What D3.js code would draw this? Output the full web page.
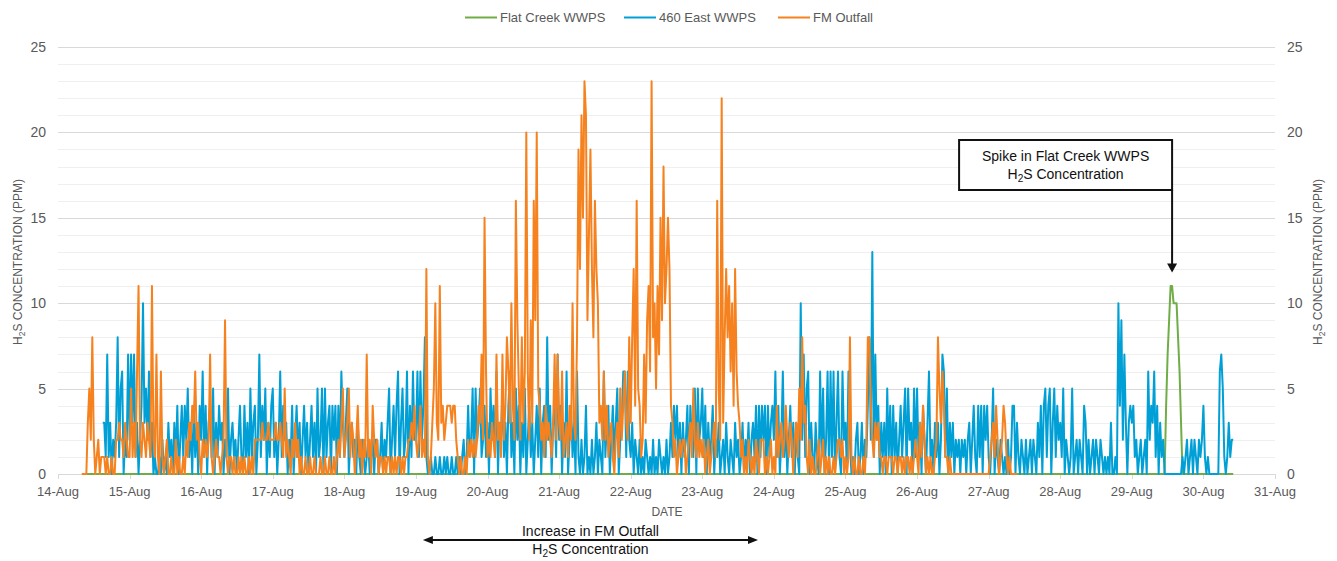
<!DOCTYPE html>
<html>
<head>
<meta charset="utf-8">
<script src="https://cdn.jsdelivr.net/npm/d3@7"></script>
<style>
  body { margin: 0; background: #fff; }
  svg { display: block; }
  text { font-family: "Liberation Sans", Arial, sans-serif; }
</style>
</head>
<body>
<svg id="chart" width="1337" height="561"></svg>
<script>
// H2S readings (ppm), one value every 30 minutes from each series' start time.
const stepMinutes = 30;

const seriesNames = ["Flat Creek WWPS", "460 East WWPS", "FM Outfall"];
const seriesStarts = ["2019-08-14T08:00:00Z", "2019-08-14T15:00:00Z", "2019-08-14T08:00:00Z"];

const flatCreek = [
  0,0,0,0,0,0,0,0,0,0,0,0,0,0,0,0,0,0,0,0,0,0,0,0,0,0,0,0,0,0,0,0,
  0,0,0,0,0,0,0,0,0,0,0,0,0,0,0,0,0,0,0,0,0,0,0,0,0,0,0,0,0,0,0,0,0,0,0,0,0,0,0,0,0,0,0,0,0,0,0,0,
  0,0,0,0,0,0,0,0,0,0,0,0,0,0,0,0,0,0,0,0,0,0,0,0,0,0,0,0,0,0,0,0,0,0,0,0,0,0,0,0,0,0,0,0,0,0,0,0,
  0,0,0,0,0,0,0,0,0,0,0,0,0,0,0,0,0,0,0,0,0,0,0,0,0,0,0,0,0,0,0,0,0,0,0,0,0,0,0,0,0,0,0,0,0,0,0,0,
  0,0,0,0,0,0,0,0,0,0,0,0,0,0,0,0,0,0,0,0,0,0,0,0,0,0,0,0,0,0,0,0,0,0,0,0,0,0,0,0,0,0,0,0,0,0,0,0,
  0,0,0,0,0,0,0,0,0,0,0,0,0,0,0,0,0,0,0,0,0,0,0,0,0,0,0,0,0,0,0,0,0,0,0,0,0,0,0,0,0,0,0,0,0,0,0,0,
  0,0,0,0,0,0,0,0,0,0,0,0,0,0,0,0,0,0,0,0,0,0,0,0,0,0,0,0,0,0,0,0,0,0,0,0,0,0,0,0,0,0,0,0,0,0,0,0,
  0,0,0,0,0,0,0,0,0,0,0,0,0,0,0,0,0,0,0,0,0,0,0,0,0,0,0,0,0,0,0,0,0,0,0,0,0,0,0,0,0,0,0,0,0,0,0,0,
  0,0,0,0,0,0,0,0,0,0,0,0,0,0,0,0,0,0,0,0,0,0,0,0,0,0,0,0,0,0,0,0,0,0,0,0,0,0,0,0,0,0,0,0,0,0,0,0,
  0,0,0,0,0,0,0,0,0,0,0,0,0,0,0,0,0,0,0,0,0,0,0,0,0,0,0,0,0,0,0,0,0,0,0,0,0,0,0,0,0,0,0,0,0,0,0,0,
  0,0,0,0,0,0,0,0,0,0,0,0,0,0,0,0,0,0,0,0,0,0,0,0,0,0,0,0,0,0,0,0,0,0,0,0,0,0,0,0,0,0,0,0,0,0,0,0,
  0,0,0,0,0,0,0,0,0,0,0,0,0,0,0,0,0,0,0,0,0,0,0,0,0,0,0,0,0,0,0,0,0,0,0,0,0,0,0,0,0,0,0,0,0,0,0,0,
  0,0,0,0,0,0,0,0,0,0,0,0,0,0,0,0,0,0,0,0,0,0,0,0,0,0,0,0,0,0,0,0,0,0,0,0,0,0,0,0,0,0,0,0,0,0,0,0,
  0,0,0,0,0,0,0,0,0,0,0,0,0,0,0,0,0,0,0,0,0,0,0,0,0,0,0,0,0,0,0,0,0,0,0,0,0,0,0,0,0,0,0,0,0,0,0,0,
  0,0,0,0,0,0,0,0,0,0,0,0,0,0,0,0,0,0,0,0,0,0,0,0,0,0,0,0,0,0,0,0,0,0,0,0,0,0,0,0,0,0,0,0,0,0,0,0,
  0,0,0,0,0,0,0,0,0,0,0,0,0,0,0,0,0,0,0,0,0,0,0,4,7,9,11,11,10,10,10,8,6,3,0,0,0,0,0,0,0,0,0,0,0,0,0,0,
  0,0,0,0,0,0,0,0,0,0,0,0,0,0,0,0,0,0,0,0,0
];

const east460 = [
  3,3,1,7,1,3,0,2,1,3,8,1,5,6,0,2,1,7,
  2,7,3,7,1,3,0,2,4,10,3,5,2,6,1,3,0,1,0,0,1,0,2,0,1,0,3,1,2,0,3,1,4,0,2,4,1,4,2,5,1,3,0,4,1,3,0,4,
  2,6,1,4,0,3,4,1,5,0,3,1,4,2,3,0,2,1,5,0,2,3,1,2,0,2,4,1,0,4,1,3,0,5,1,3,4,0,2,7,1,4,2,5,0,3,1,4,
  5,1,3,0,2,6,1,4,2,3,0,2,1,4,0,2,4,1,3,0,2,4,1,3,0,2,4,1,3,0,5,1,2,5,0,5,1,3,4,0,4,2,4,0,4,1,6,3,
  1,3,5,0,2,3,1,2,0,3,1,0,2,1,0,1,2,0,1,2,0,2,2,0,1,3,0,2,1,3,5,0,2,4,1,4,6,0,3,5,1,2,6,0,4,1,6,2,
  2,6,1,6,2,4,8,1,0,0,1,0,0,1,0,0,1,0,0,1,0,1,0,0,1,0,0,1,0,1,0,1,2,0,1,4,1,2,5,0,5,2,3,5,1,2,4,1,
  3,0,5,2,4,1,6,0,3,2,5,1,3,0,4,6,1,3,0,5,2,4,0,3,1,5,0,2,4,1,3,0,2,4,1,5,0,3,4,1,8,2,4,0,3,4,1,7,
  2,4,0,3,1,6,0,2,4,1,3,0,6,1,0,2,0,1,4,0,1,0,2,0,1,3,0,2,1,0,6,1,3,4,0,2,4,1,3,5,0,2,3,6,6,1,6,2,
  1,3,0,2,1,0,2,0,1,0,2,1,0,1,0,2,0,1,0,2,1,0,1,0,2,0,1,3,1,4,2,4,1,3,0,3,1,2,4,0,4,2,1,5,0,5,2,3,
  5,1,4,0,3,1,2,4,0,2,1,3,0,1,2,0,3,1,0,2,1,0,3,1,2,0,1,3,0,2,1,3,0,2,3,1,4,0,4,1,4,2,4,0,4,1,3,4,
  2,6,1,4,0,2,6,1,3,0,2,4,1,3,0,3,1,0,10,2,7,1,5,6,0,3,1,0,3,1,0,6,1,5,0,2,6,0,6,1,6,0,3,6,1,0,6,2,
  3,0,6,2,0,1,0,2,3,0,1,3,0,2,1,4,8,2,13,1,7,2,4,0,3,1,3,0,5,1,4,0,4,1,3,0,2,4,1,3,5,0,5,2,3,0,5,1,
  5,1,3,0,4,2,0,3,6,1,2,0,3,1,3,0,2,7,6,1,5,0,3,1,3,0,2,1,2,0,2,1,2,0,2,3,0,2,4,1,0,4,1,4,0,4,2,4,
  1,0,2,5,0,2,1,0,2,1,0,1,0,2,0,1,4,4,0,3,1,0,2,1,0,2,0,1,2,0,2,1,0,3,1,4,0,4,5,1,4,5,0,3,5,1,4,2,
  3,1,5,0,2,1,0,1,5,0,1,2,0,2,1,0,4,3,0,2,0,1,2,0,2,1,0,2,1,0,1,0,1,0,3,0,0,1,0,10,4,9,2,7,3,0,3,4,
  3,4,1,2,0,1,2,0,1,2,0,6,2,4,3,6,1,4,0,3,1,2,0,0,0,0,0,0,0,0,0,0,0,0,1,0,1,2,0,1,2,0,2,1,0,2,1,2,
  4,1,0,1,0,0,0,0,0,0,0,6,7,5,1,0,1,3,1,2,2
];

const fmOutfall = [
  0,0,0,0,3,5,2,8,2,0,1,2,0,1,1,1,0,1,0,0,1,0,0,2,2,3,2,2,1,3,2,1,
  1,5,1,3,1,6,11,2,1,3,2,1,3,2,1,11,2,1,7,1,0,6,1,0,1,2,0,0,1,0,0,2,0,1,0,0,1,0,2,1,3,2,4,3,6,2,3,1,
  0,2,1,2,1,2,7,1,0,1,2,1,1,0,1,2,9,1,0,1,1,0,1,0,0,1,0,1,0,1,0,0,1,0,1,0,2,2,2,2,2,3,2,2,2,3,2,2,
  2,2,3,2,2,3,2,1,5,1,2,1,0,2,1,3,1,2,0,1,0,0,1,0,0,1,0,0,1,0,0,0,1,0,0,1,0,0,1,0,0,1,0,1,2,1,3,5,
  1,2,3,5,1,3,2,0,2,4,1,2,0,2,1,7,1,2,0,4,2,1,2,0,1,1,0,1,0,1,1,0,1,0,1,0,1,1,0,1,0,1,1,2,2,3,2,4,
  2,1,2,4,1,2,1,12,1,0,1,3,5,10,3,2,11,3,4,2,3,4,4,4,3,4,4,2,1,0,1,0,0,1,0,2,1,2,1,2,1,2,4,3,7,2,15,6,
  1,2,1,3,2,1,7,2,3,1,7,2,4,8,6,3,10,4,2,16,9,5,2,8,3,6,20,6,2,9,3,16,9,20,5,4,2,3,1,4,2,3,2,1,3,7,2,7,
  3,2,6,1,2,3,1,4,2,10,3,2,8,19,12,21,15,23,21,9,14,19,12,8,16,12,10,3,4,2,6,2,4,1,2,3,1,0,2,3,1,5,2,4,6,3,2,8,
  3,8,12,4,16,5,4,1,2,7,3,9,11,6,23,8,10,5,11,7,15,9,18,10,12,15,12,4,3,1,2,0,1,2,1,2,2,0,1,2,3,1,5,2,1,3,1,2,
  1,2,0,1,2,0,1,2,3,1,16,5,2,22,3,8,12,8,11,6,10,4,12,6,4,3,1,2,0,1,0,2,1,0,1,0,2,1,0,2,2,2,0,1,0,1,2,0,
  1,0,4,1,2,3,1,2,4,2,1,3,2,0,2,3,1,5,2,8,3,4,1,0,2,0,1,0,0,1,2,0,1,2,0,1,0,1,0,0,1,0,1,2,2,1,2,0,
  1,0,1,8,1,0,1,0,0,1,0,0,1,0,2,8,8,4,2,1,3,2,3,1,1,0,1,1,0,1,1,1,0,1,1,0,1,1,0,1,0,1,1,0,1,0,1,2,
  1,0,3,1,4,2,0,1,0,1,0,0,1,2,8,5,3,6,4,1,1,0,1,0,0,0,0,0,0,0,0,0,0,0,0,0,0,0,0,0,0,0,0,0,0,0,0,0,
  0,1,2,3,1,4,2,0,1,2,4,3,1,0,1,0,0,0,0,0
];

const seriesValues = [flatCreek, east460, fmOutfall];
const seriesColors = ["#70ad47", "#00a0d6", "#f5821f"];

const yTicks = [0, 5, 10, 15, 20, 25];
const dateDomain = ["2019-08-14T00:00:00Z", "2019-08-31T00:00:00Z"];

// Annotation anchors (times / values on the chart's own scales)
const outfallWindow = ["2019-08-19T02:20:00Z", "2019-08-23T18:40:00Z"];
const spikeTime = "2019-08-29T13:30:00Z";
const spikeTipValue = 11.8;

const svg = d3.select("#chart");
const plot = { left: 58, right: 1275, top: 47, bottom: 474 };

const x = d3.scaleUtc()
  .domain(dateDomain.map(d => new Date(d)))
  .range([plot.left, plot.right]);
const y = d3.scaleLinear().domain([0, 25]).range([plot.bottom, plot.top]);

const grey = "#595959";

// Gridlines: minor every 1 ppm, major every 5 ppm
const gridVals = d3.range(0, 26);
svg.append("g").selectAll("line").data(gridVals.filter(v => v % 5 !== 0)).join("line")
  .attr("x1", plot.left).attr("x2", plot.right)
  .attr("y1", d => Math.round(y(d)) + 0.5).attr("y2", d => Math.round(y(d)) + 0.5)
  .attr("stroke", "#efefef").attr("stroke-width", 1);
svg.append("g").selectAll("line").data(yTicks).join("line")
  .attr("x1", plot.left).attr("x2", plot.right)
  .attr("y1", d => Math.round(y(d)) + 0.5).attr("y2", d => Math.round(y(d)) + 0.5)
  .attr("stroke", "#d9d9d9").attr("stroke-width", 1);

// X axis ticks and date labels
const days = d3.utcDay.range(x.domain()[0], d3.utcDay.offset(x.domain()[1], 1));
const fmt = d3.utcFormat("%d-%b");
const xg = svg.append("g");
xg.selectAll("line").data(days).join("line")
  .attr("x1", d => Math.round(x(d)) + 0.5).attr("x2", d => Math.round(x(d)) + 0.5)
  .attr("y1", plot.bottom).attr("y2", plot.bottom + 5)
  .attr("stroke", "#d9d9d9");
xg.selectAll("text").data(days).join("text")
  .attr("x", d => x(d)).attr("y", 496)
  .attr("text-anchor", "middle").attr("font-size", 13).attr("fill", grey)
  .text(d => fmt(d));

// Y tick labels on both sides
svg.append("g").selectAll("text").data(yTicks).join("text")
  .attr("x", 46).attr("y", d => y(d)).attr("dy", "0.35em")
  .attr("text-anchor", "end").attr("font-size", 14).attr("fill", grey)
  .text(d => d);
svg.append("g").selectAll("text").data(yTicks).join("text")
  .attr("x", 1287).attr("y", d => y(d)).attr("dy", "0.35em")
  .attr("text-anchor", "start").attr("font-size", 14).attr("fill", grey)
  .text(d => d);

// Axis titles
function h2sTitle(g, tail) {
  g.append("tspan").text("H");
  g.append("tspan").attr("font-size", "0.72em").attr("dy", 3).text("2");
  g.append("tspan").attr("dy", -3).text(tail);
}
const midY = 262;
h2sTitle(svg.append("text")
  .attr("transform", `translate(22,${midY}) rotate(-90)`)
  .attr("text-anchor", "middle").attr("font-size", 12).attr("fill", grey),
  "S CONCENTRATION (PPM)");
h2sTitle(svg.append("text")
  .attr("transform", `translate(1322,${midY}) rotate(-90)`)
  .attr("text-anchor", "middle").attr("font-size", 12).attr("fill", grey),
  "S CONCENTRATION (PPM)");

svg.append("text").attr("x", 667).attr("y", 516)
  .attr("text-anchor", "middle").attr("font-size", 12).attr("fill", grey).text("DATE");

// Series lines (later series drawn on top)
const line = d3.line().x(d => x(d.t)).y(d => y(d.v));
seriesValues.forEach((vals, i) => {
  const t0 = new Date(seriesStarts[i]).getTime();
  const pts = vals.map((v, k) => ({ t: new Date(t0 + k * stepMinutes * 60000), v }));
  svg.append("path").datum(pts)
    .attr("d", line)
    .attr("fill", "none")
    .attr("stroke", seriesColors[i])
    .attr("stroke-width", 2)
    .attr("stroke-linejoin", "round");
});

// Legend
const legendX = [465, 624, 778];
const lg = svg.append("g");
seriesNames.forEach((name, i) => {
  lg.append("line").attr("x1", legendX[i]).attr("x2", legendX[i] + 32)
    .attr("y1", 17.5).attr("y2", 17.5)
    .attr("stroke", seriesColors[i]).attr("stroke-width", 2);
  lg.append("text").attr("x", legendX[i] + 35).attr("y", 17).attr("dy", "0.35em")
    .attr("font-size", 13).attr("fill", grey).text(name);
});

// Annotation: FM Outfall increase window (double arrow)
const ink = "#111";
const ax1 = x(new Date(outfallWindow[0])), ax2 = x(new Date(outfallWindow[1]));
const ay = 540;
const amid = (ax1 + ax2) / 2;
svg.append("line").attr("x1", ax1 + 8).attr("x2", ax2 - 8).attr("y1", ay).attr("y2", ay)
  .attr("stroke", ink).attr("stroke-width", 2);
svg.append("path").attr("d", `M${ax1},${ay} L${ax1 + 10},${ay - 4} L${ax1 + 10},${ay + 4} Z`).attr("fill", ink);
svg.append("path").attr("d", `M${ax2},${ay} L${ax2 - 10},${ay - 4} L${ax2 - 10},${ay + 4} Z`).attr("fill", ink);
svg.append("text").attr("x", amid).attr("y", 536).attr("text-anchor", "middle")
  .attr("font-size", 14).attr("fill", ink).text("Increase in FM Outfall");
h2sTitle(svg.append("text").attr("x", amid).attr("y", 554).attr("text-anchor", "middle")
  .attr("font-size", 14).attr("fill", ink), "S Concentration");

// Annotation: Flat Creek spike callout box with arrow
const sx = x(new Date(spikeTime));
const box = { x: sx - 213, y: 140, w: 213, h: 50 };
svg.append("line").attr("x1", sx).attr("x2", sx).attr("y1", box.y + box.h).attr("y2", y(spikeTipValue) - 8)
  .attr("stroke", ink).attr("stroke-width", 2);
svg.append("path")
  .attr("d", `M${sx},${y(spikeTipValue)} L${sx - 5},${y(spikeTipValue) - 9} L${sx + 5},${y(spikeTipValue) - 9} Z`)
  .attr("fill", ink);
svg.append("rect").attr("x", box.x).attr("y", box.y).attr("width", box.w).attr("height", box.h)
  .attr("fill", "#fff").attr("stroke", ink).attr("stroke-width", 2);
svg.append("text").attr("x", box.x + box.w / 2).attr("y", 161).attr("text-anchor", "middle")
  .attr("font-size", 14).attr("fill", ink).text("Spike in Flat Creek WWPS");
h2sTitle(svg.append("text").attr("x", box.x + box.w / 2).attr("y", 179).attr("text-anchor", "middle")
  .attr("font-size", 14).attr("fill", ink), "S Concentration");
</script>
</body>
</html>
